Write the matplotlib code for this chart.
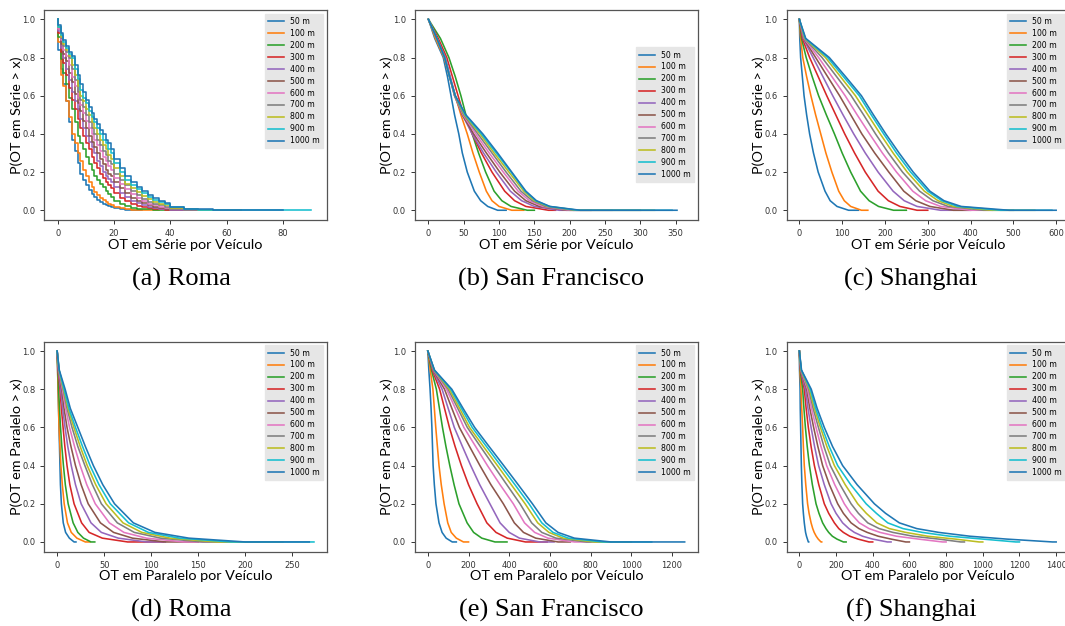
import numpy as np
import matplotlib.pyplot as plt

distances = ['50 m', '100 m', '200 m', '300 m', '400 m', '500 m',
             '600 m', '700 m', '800 m', '900 m', '1000 m']

# Roma, serie: P(OT > x) read at integer / coarser x positions (step curves)
roma_serie_x = list(range(0, 21)) + list(range(22, 41, 2)) + list(range(45, 91, 5))
roma_serie = [
    [1.0, 0.84, 0.74, 0.66, 0.57, 0.46, 0.37, 0.31, 0.25, 0.19, 0.16, 0.13, 0.105, 0.085, 0.068, 0.054, 0.043, 0.034, 0.027, 0.021, 0.016,
     0.010, 0.006, 0.003, 0.001, 0.0],
    [1.0, 0.88, 0.71, 0.65, 0.57, 0.49, 0.40, 0.35, 0.30, 0.26, 0.21, 0.18, 0.15, 0.12, 0.097, 0.08, 0.065, 0.052, 0.042, 0.034, 0.027,
     0.017, 0.010, 0.006, 0.0035, 0.002, 0.001, 0.0005, 0.0],
    [1.0, 0.91, 0.79, 0.72, 0.66, 0.59, 0.53, 0.46, 0.39, 0.35, 0.32, 0.28, 0.24, 0.21, 0.18, 0.16, 0.14, 0.12, 0.10, 0.085, 0.072,
     0.05, 0.034, 0.022, 0.014, 0.009, 0.006, 0.004, 0.002, 0.001, 0.0005, 0.0],
    [1.0, 0.93, 0.83, 0.77, 0.71, 0.64, 0.58, 0.53, 0.48, 0.43, 0.39, 0.35, 0.32, 0.28, 0.25, 0.22, 0.19, 0.17, 0.15, 0.13, 0.115,
     0.088, 0.065, 0.047, 0.033, 0.023, 0.016, 0.011, 0.007, 0.005, 0.003, 0.001, 0.0],
    [1.0, 0.94, 0.85, 0.80, 0.74, 0.68, 0.62, 0.57, 0.53, 0.48, 0.43, 0.39, 0.36, 0.33, 0.30, 0.26, 0.23, 0.20, 0.18, 0.165, 0.15,
     0.12, 0.09, 0.068, 0.05, 0.036, 0.026, 0.018, 0.012, 0.008, 0.005, 0.002, 0.0005, 0.0],
    [1.0, 0.95, 0.87, 0.82, 0.78, 0.72, 0.67, 0.61, 0.56, 0.52, 0.47, 0.43, 0.39, 0.36, 0.33, 0.30, 0.27, 0.24, 0.21, 0.19, 0.18,
     0.15, 0.115, 0.088, 0.066, 0.05, 0.036, 0.026, 0.018, 0.013, 0.009, 0.004, 0.0015, 0.0005, 0.0],
    [1.0, 0.95, 0.89, 0.84, 0.81, 0.76, 0.70, 0.65, 0.59, 0.55, 0.51, 0.47, 0.43, 0.40, 0.37, 0.34, 0.31, 0.28, 0.26, 0.23, 0.21,
     0.17, 0.14, 0.11, 0.083, 0.063, 0.047, 0.035, 0.025, 0.018, 0.013, 0.006, 0.0025, 0.001, 0.0],
    [1.0, 0.96, 0.90, 0.86, 0.83, 0.80, 0.74, 0.68, 0.62, 0.58, 0.54, 0.50, 0.46, 0.43, 0.40, 0.37, 0.34, 0.31, 0.29, 0.26, 0.24,
     0.19, 0.16, 0.13, 0.10, 0.08, 0.06, 0.045, 0.034, 0.025, 0.018, 0.008, 0.0035, 0.0015, 0.0005, 0.0],
    [1.0, 0.96, 0.91, 0.87, 0.84, 0.81, 0.76, 0.71, 0.65, 0.60, 0.57, 0.53, 0.50, 0.46, 0.43, 0.40, 0.37, 0.34, 0.32, 0.29, 0.27,
     0.22, 0.18, 0.14, 0.115, 0.095, 0.075, 0.058, 0.044, 0.033, 0.025, 0.012, 0.005, 0.002, 0.001, 0.0],
    [1.0, 0.96, 0.92, 0.88, 0.85, 0.82, 0.80, 0.74, 0.69, 0.63, 0.59, 0.56, 0.52, 0.49, 0.46, 0.43, 0.40, 0.37, 0.35, 0.32, 0.30,
     0.25, 0.20, 0.16, 0.13, 0.11, 0.09, 0.07, 0.054, 0.042, 0.032, 0.016, 0.007, 0.003, 0.0015, 0.0008, 0.0004, 0.0002, 0.0001, 0.0, 0.0],
    [1.0, 0.97, 0.93, 0.89, 0.86, 0.83, 0.81, 0.76, 0.71, 0.66, 0.62, 0.58, 0.54, 0.51, 0.48, 0.45, 0.42, 0.40, 0.37, 0.35, 0.32,
     0.27, 0.22, 0.18, 0.15, 0.12, 0.10, 0.08, 0.062, 0.048, 0.037, 0.018, 0.008, 0.004, 0.002, 0.001, 0.0005, 0.0002, 0.0],
]

# other panels: x where each curve crosses these probability levels
# (last two entries: where the curve reaches 0 and where the line ends)
levels = [1.0, 0.9, 0.8, 0.7, 0.6, 0.5, 0.4, 0.3, 0.2, 0.1, 0.05, 0.02, 0.0, 0.0]
levels_long_tail = [1.0, 0.9, 0.8, 0.7, 0.6, 0.5, 0.4, 0.3, 0.2, 0.15, 0.1,
                    0.07, 0.05, 0.03, 0.015, 0.0, 0.0]

sf_serie = [
    [0, 9, 21, 27, 32, 37, 43, 48, 55, 65, 74, 84, 98, 110],
    [0, 10, 22, 30, 38, 46, 55, 63, 72, 82, 90, 100, 118, 135],
    [0, 17, 29, 38, 46, 53, 62, 71, 81, 93, 104, 117, 140, 150],
    [0, 14, 26, 34, 42, 50, 62, 75, 90, 108, 122, 138, 170, 180],
    [0, 12, 24, 31, 38, 48, 62, 78, 96, 116, 132, 150, 185, 210],
    [0, 12, 23, 30, 37, 48, 64, 82, 101, 122, 138, 157, 195, 230],
    [0, 12, 23, 30, 37, 49, 67, 86, 106, 127, 143, 162, 200, 260],
    [0, 12, 23, 30, 37, 50, 70, 90, 110, 131, 147, 166, 205, 300],
    [0, 12, 23, 30, 38, 51, 73, 93, 114, 135, 150, 169, 210, 320],
    [0, 12, 23, 30, 38, 52, 75, 96, 117, 137, 152, 171, 212, 345],
    [0, 12, 23, 30, 38, 53, 77, 98, 118, 138, 153, 172, 215, 352],
]

sh_serie = [
    [0, 1, 3, 7, 11, 17, 24, 33, 44, 60, 72, 88, 115, 138],
    [0, 3, 8, 17, 27, 38, 50, 62, 76, 92, 105, 120, 145, 160],
    [0, 5, 16, 30, 45, 63, 82, 100, 120, 143, 163, 185, 220, 250],
    [0, 7, 24, 44, 64, 85, 106, 129, 154, 184, 208, 235, 275, 300],
    [0, 9, 32, 55, 78, 102, 127, 154, 184, 219, 245, 275, 330, 398],
    [0, 10, 38, 66, 94, 120, 146, 176, 209, 244, 272, 305, 360, 400],
    [0, 11, 45, 76, 107, 135, 164, 194, 227, 265, 295, 330, 400, 450],
    [0, 12, 53, 87, 121, 150, 178, 208, 241, 281, 312, 348, 430, 500],
    [0, 13, 61, 96, 131, 160, 189, 219, 252, 292, 324, 360, 450, 550],
    [0, 14, 66, 103, 140, 168, 197, 227, 260, 300, 333, 370, 470, 590],
    [0, 15, 70, 108, 145, 173, 202, 233, 266, 305, 338, 378, 490, 600],
]

roma_par = [
    [0, 0.5, 1, 1.5, 2, 2.5, 3, 3.5, 4.5, 6.5, 9, 13, 18, 20],
    [0, 0.5, 1, 1.5, 2, 3, 4, 5.5, 7.5, 11, 15, 21, 30, 35],
    [0, 0.8, 1.5, 2.5, 3.6, 5, 6.7, 8.7, 11.7, 17, 22, 28, 36, 40],
    [0, 1, 3, 4.5, 6.3, 8.2, 10.5, 13.5, 18, 26, 34, 48, 75, 113],
    [0, 1.2, 3.7, 5.8, 8.4, 11.3, 15, 19.5, 25.5, 36, 47, 65, 95, 115],
    [0, 1.5, 4.8, 7.3, 10.5, 14.7, 19.5, 25.5, 33, 46, 60, 80, 115, 150],
    [0, 1.7, 5.6, 9, 13.2, 18.5, 24.5, 31.5, 40.5, 55.5, 71, 95, 135, 180],
    [0, 1.9, 6.4, 10.5, 15.8, 22, 29.5, 37.5, 47, 64, 82, 110, 155, 215],
    [0, 2, 6.8, 11.5, 17.8, 24.5, 32, 41, 52, 70, 90, 120, 170, 240],
    [0, 2.1, 7.4, 12.5, 19.5, 27, 35, 44.5, 56.5, 76, 97, 130, 185, 273],
    [0, 2.3, 8.5, 14, 22, 30, 38.5, 48.5, 61, 81, 104, 140, 200, 268],
]

sf_par = [
    [0, 5, 11, 16, 20, 23, 26, 32, 40, 55, 70, 90, 120, 140],
    [0, 12, 25, 32, 39, 47, 55, 66, 80, 98, 115, 140, 175, 200],
    [0, 18, 42, 57, 72, 89, 108, 129, 153, 193, 225, 265, 330, 389],
    [0, 22, 58, 82, 106, 134, 165, 200, 242, 290, 335, 390, 480, 586],
    [0, 25, 70, 100, 130, 170, 211, 255, 305, 355, 400, 450, 550, 620],
    [0, 27, 82, 118, 155, 205, 256, 310, 371, 425, 470, 530, 640, 700],
    [0, 29, 92, 135, 177, 235, 293, 355, 420, 475, 525, 590, 720, 800],
    [0, 30, 100, 147, 194, 258, 323, 388, 453, 510, 560, 630, 780, 900],
    [0, 31, 106, 156, 205, 273, 342, 410, 478, 540, 595, 665, 820, 1000],
    [0, 32, 113, 165, 218, 288, 358, 428, 497, 560, 615, 690, 860, 1100],
    [0, 33, 118, 173, 230, 301, 373, 444, 514, 580, 640, 720, 900, 1262],
]

# Shanghai, paralelo (uses levels_long_tail)
sh_par = [
    [0, 1, 4, 5, 7, 9, 11, 14, 18, 22, 27, 31, 34, 39, 44, 49, 51],
    [0, 3, 9, 13, 18, 22, 27, 35, 45, 53, 64, 73, 81, 92, 103, 118, 122],
    [0, 5, 18, 25, 33, 43, 55, 71, 91, 107, 127, 145, 160, 180, 205, 240, 255],
    [0, 6, 27, 37, 49, 64, 82, 106, 136, 160, 191, 215, 240, 275, 320, 380, 400],
    [0, 7, 33, 47, 64, 83, 105, 136, 173, 200, 236, 270, 300, 345, 400, 480, 500],
    [0, 8, 40, 57, 78, 101, 127, 164, 209, 240, 282, 325, 370, 430, 500, 580, 600],
    [0, 9, 45, 66, 91, 118, 149, 193, 245, 280, 327, 380, 440, 530, 650, 780, 800],
    [0, 10, 51, 75, 104, 134, 169, 222, 282, 322, 373, 435, 510, 620, 760, 880, 900],
    [0, 10, 55, 82, 115, 150, 191, 250, 318, 365, 422, 490, 580, 700, 850, 980, 1000],
    [0, 11, 60, 89, 124, 163, 209, 280, 364, 420, 482, 565, 670, 820, 1000, 1180, 1200],
    [0, 12, 65, 97, 136, 181, 236, 315, 409, 470, 545, 640, 760, 930, 1130, 1380, 1400],
]

captions = ['(a) Roma', '(b) San Francisco', '(c) Shanghai',
            '(d) Roma', '(e) San Francisco', '(f) Shanghai']
xlabel_serie = 'OT em Série por Veículo'
xlabel_par = 'OT em Paralelo por Veículo'
ylabel_serie = 'P(OT em Série > x)'
ylabel_par = 'P(OT em Paralelo > x)'

W, H = 1065, 626
fig = plt.figure(figsize=(W / 100, H / 100), dpi=100)

col_left = [44.3, 415, 786.5]
row_top = [9.8, 341.5]
cap_x = [181, 551, 911]
cap_y = [279, 610]
ax_w, ax_h = 282.5, 210

panels = [
    (0, 0, None, None, (-4.8, 95.6), range(0, 81, 20), xlabel_serie, ylabel_serie, 'upper right'),
    (0, 1, sf_serie, levels, (-19, 381), range(0, 351, 50), xlabel_serie, ylabel_serie, 'center right'),
    (0, 2, sh_serie, levels, (-30, 630), range(0, 601, 100), xlabel_serie, ylabel_serie, 'upper right'),
    (1, 0, roma_par, levels, (-13.65, 286.65), range(0, 251, 50), xlabel_par, ylabel_par, 'upper right'),
    (1, 1, sf_par, levels, (-63, 1325), range(0, 1201, 200), xlabel_par, ylabel_par, 'upper right'),
    (1, 2, sh_par, levels_long_tail, (-70, 1470), range(0, 1401, 200), xlabel_par, ylabel_par, 'upper right'),
]

for k, (r, c, data, lv, xlim, xt, xl, yl, loc) in enumerate(panels):
    ax = fig.add_axes([col_left[c] / W, 1 - (row_top[r] + ax_h) / H, ax_w / W, ax_h / H])
    for i, d in enumerate(distances):
        if data is None:
            ys = roma_serie[i]
            ax.plot(roma_serie_x[:len(ys)], ys, drawstyle='steps-pre', lw=1.15, label=d)
        else:
            ax.plot(data[i], lv, lw=1.15, label=d)
    ax.set_xlim(xlim)
    ax.set_ylim(-0.05, 1.05)
    ax.set_xticks(list(xt))
    ax.set_yticks([0, 0.2, 0.4, 0.6, 0.8, 1.0])
    ax.tick_params(labelsize=6, colors='#333333', length=3, width=0.7)
    for s in ax.spines.values():
        s.set_color('#555555')
        s.set_linewidth(0.9)
    ax.set_xlabel(xl, family='Lato', fontsize=10.4, labelpad=0.5)
    ax.set_ylabel(yl, family='Lato', fontsize=10.4, labelpad=-0.5)
    leg = ax.legend(loc=loc, fontsize=5.6, frameon=True, fancybox=False,
                    labelspacing=0.38)
    leg.get_frame().set_facecolor('#e6e6e6')
    leg.get_frame().set_edgecolor('#e6e6e6')
    leg.get_frame().set_alpha(1)
    fig.text(cap_x[c] / W, 1 - cap_y[r] / H, captions[k], ha='center', va='center',
             family='Liberation Serif', fontsize=19)

fig.savefig('out.png', dpi=100)
